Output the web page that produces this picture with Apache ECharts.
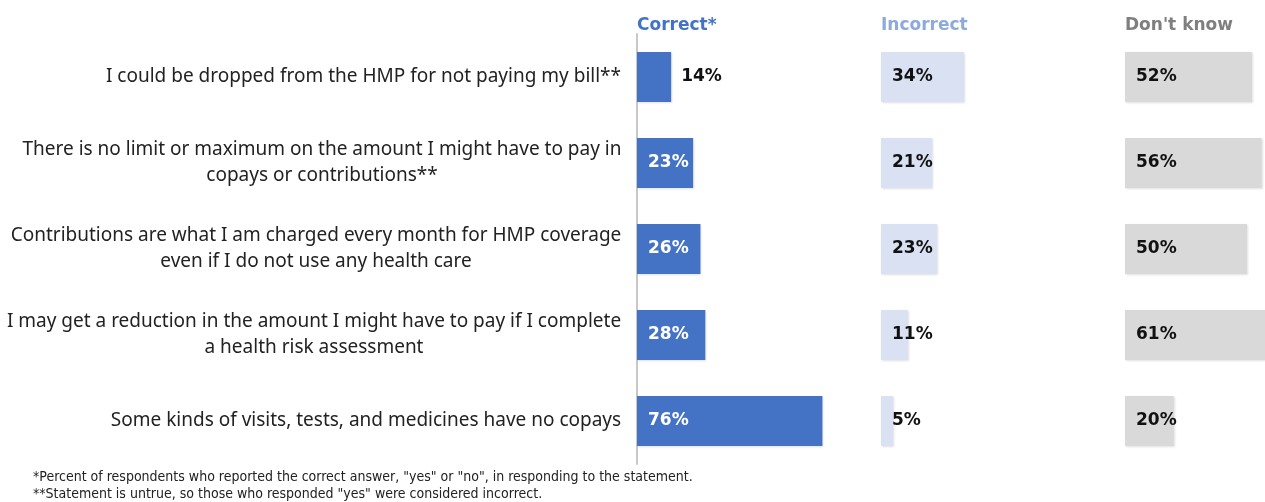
<!DOCTYPE html>
<html>
<head>
<meta charset="utf-8">
<script src="https://cdn.jsdelivr.net/npm/echarts@6/dist/echarts.min.js"></script>
<style>
  html, body { margin: 0; padding: 0; background: #fff; }
  #chart { width: 1265px; height: 502px; }
</style>
</head>
<body>
<div id="chart"></div>
<script>
// Statements (top to bottom)
const statements = [
  'I could be dropped from the HMP for not paying my bill**',
  'There is no limit or maximum on the amount I might have to pay in\ncopays or contributions**',
  'Contributions are what I am charged every month for HMP coverage\neven if I do not use any health care',
  'I may get a reduction in the amount I might have to pay if I complete\na health risk assessment',
  'Some kinds of visits, tests, and medicines have no copays'
];

// Percentages
const correctValues = [14, 23, 26, 28, 76];
const incorrectValues = [34, 21, 23, 11, 5];
const dontKnowValues = [52, 56, 50, 61, 20];

const panelTitles = ['Correct*', 'Incorrect', "Don't know"];
const footnotes = [
  '*Percent of respondents who reported the correct answer, "yes" or "no", in responding to the statement.',
  '**Statement is untrue, so those who responded "yes" were considered incorrect.'
];

// Couleurs
const COLORS = {
  correct: '#4472C4',
  incorrect: '#D9E1F2',
  dontKnow: '#D9D9D9',
  titles: ['#4472C4', '#8EA9DB', '#7F7F7F'],
};

const FONT = "'Noto Sans', sans-serif";
const BOLD_FONT = "'DejaVu Sans', sans-serif";
const LABEL_SIZE = 19;
const CHART_W = 1265;
const PANEL_LEFT = [637, 881, 1125];
const PANEL_WIDTH = 244;
const GRID_TOP = 34;
const GRID_HEIGHT = 430;

// Le dernier panneau est coupé par le bord de la fenêtre
function panelWidth(i) {
  return Math.min(PANEL_WIDTH, CHART_W - PANEL_LEFT[i]);
}

// Largeur des libellés, pour centrer les lignes entre elles
const ctx = document.createElement('canvas').getContext('2d');
ctx.font = `${LABEL_SIZE}px 'Noto Sans'`;
const labelWidths = statements.map(s =>
  Math.ceil(Math.max(...s.split('\n').map(l => ctx.measureText(l).width))) + 1
);
const labelRich = {};
labelWidths.forEach((w, i) => {
  labelRich['c' + i] = { width: w, align: 'center', fontFamily: FONT, fontSize: LABEL_SIZE, color: '#222', lineHeight: 26 };
});

function makeGrid(i) {
  return { left: PANEL_LEFT[i], top: GRID_TOP, width: panelWidth(i), height: GRID_HEIGHT };
}

function makeXAxis(i) {
  return {
    gridIndex: i, type: 'value', min: 0,
    max: 100 * panelWidth(i) / PANEL_WIDTH,
    show: false
  };
}

function makeYAxis(i) {
  return {
    gridIndex: i, type: 'category', data: statements, inverse: true,
    axisLine: { show: i === 0, lineStyle: { color: '#C8C8C8', width: 2 } },
    axisTick: { show: false },
    axisLabel: {
      show: i === 0, align: 'right', margin: 15,
      formatter: (value, idx) => value.split('\n').map(l => `{c${idx}|${l}}`).join('\n'),
      rich: labelRich
    }
  };
}

const valueLabel = {
  show: true, formatter: '{c}%', fontFamily: BOLD_FONT, fontWeight: 'bold',
  fontSize: 17, position: 'insideLeft', distance: 11
};

// Barres "Correct" : étiquette blanche dedans, sauf si la barre est trop courte
const correctData = correctValues.map(v => v < 20
  ? { value: v, label: { position: 'right', distance: 10, color: '#111' } }
  : { value: v });

function makeSeries(i, data, color, labelColor) {
  return {
    type: 'bar', xAxisIndex: i, yAxisIndex: i, data,
    barWidth: 50,
    itemStyle: {
      color,
      shadowColor: 'rgba(0,0,0,0.12)', shadowBlur: 2, shadowOffsetX: 1, shadowOffsetY: 1
    },
    label: { ...valueLabel, color: labelColor },
    silent: true
  };
}

const chart = echarts.init(document.getElementById('chart'));
chart.setOption({
  animation: false,
  grid: [0, 1, 2].map(makeGrid),
  xAxis: [0, 1, 2].map(makeXAxis),
  yAxis: [0, 1, 2].map(makeYAxis),
  title: [
    ...panelTitles.map((t, i) => ({
      text: t, left: PANEL_LEFT[i] - 5, top: 12,
      textStyle: { fontFamily: BOLD_FONT, fontSize: 17, fontWeight: 'bold', color: COLORS.titles[i] }
    })),
    ...footnotes.map((t, i) => ({
      text: t, left: 28, top: 465 + i * 17,
      textStyle: {
        fontFamily: "'Liberation Sans Narrow', 'DejaVu Sans Condensed', sans-serif",
        fontSize: 14, fontWeight: 'normal', color: '#222'
      }
    }))
  ],
  series: [
    makeSeries(0, correctData, COLORS.correct, '#fff'),
    makeSeries(1, incorrectValues, COLORS.incorrect, '#111'),
    makeSeries(2, dontKnowValues, COLORS.dontKnow, '#111')
  ]
});
</script>
</body>
</html>
